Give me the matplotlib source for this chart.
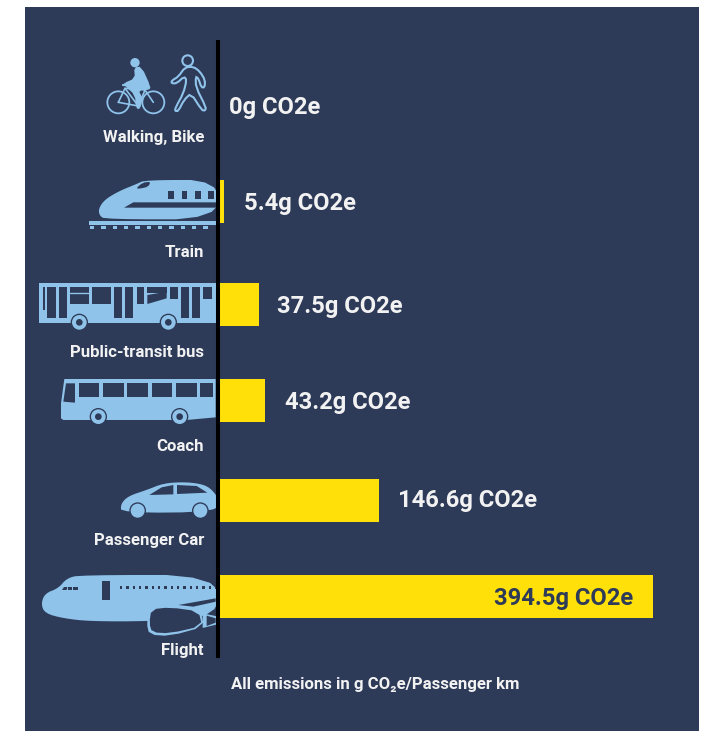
import matplotlib
matplotlib.use("Agg")
import matplotlib.pyplot as plt
from matplotlib.patches import Polygon, Circle, Rectangle

W, H = 703, 731
categories = ["Walking, Bike", "Train", "Public-transit bus", "Coach", "Passenger Car", "Flight"]
values = [0, 5.4, 37.5, 43.2, 146.6, 394.5]
value_texts = ["0g CO2e", "5.4g CO2e", "37.5g CO2e", "43.2g CO2e", "146.6g CO2e", "394.5g CO2e"]
caption = "All emissions in g CO\u2082e/Passenger km"

row_centres = [107, 201.5, 304.5, 400.5, 500.5, 596.5]
label_rows = [137.5, 252.5, 352.5, 446.5, 540.5, 650.5]
value_rows = [108, 204, 307, 403, 501, 599]
value_offsets = [11, 20, 18.5, 20, 18.5, -20]

NAVY = "#2d3a58"
YELLOW = "#ffe008"
SKY = "#8fc3ea"
TEXT = "#f2f2f2"
plt.rcParams["font.family"] = ["Roboto", "DejaVu Sans"]

fig = plt.figure(figsize=(W / 100, H / 100), dpi=100, facecolor="white")
bg = fig.add_axes([0, 0, 1, 1])
bg.set_xlim(0, W); bg.set_ylim(H, 0); bg.axis("off")
bg.add_patch(Rectangle((25, 7), 674, 724, fc=NAVY, ec="none"))

# ---------- icons, in zoomed-crop coordinates ----------
org = (30, 30)
def P(x, y):
    return (org[0] + x / 3, org[1] + y / 3)
def smooth(pts, n=2):
    for _ in range(n):
        out = []
        for i in range(len(pts)):
            a, b = pts[i], pts[(i + 1) % len(pts)]
            out.append((0.75 * a[0] + 0.25 * b[0], 0.75 * a[1] + 0.25 * b[1]))
            out.append((0.25 * a[0] + 0.75 * b[0], 0.25 * a[1] + 0.75 * b[1]))
        pts = out
    return pts
def poly(pts, c=SKY, z=2, n=0, ec="none", lw=0):
    pts = smooth(pts, n) if n else pts
    bg.add_patch(Polygon([P(*p) for p in pts], closed=True, fc=c, ec=ec, lw=lw, zorder=z))
def rect(x0, y0, x1, y1, c=NAVY, z=3):
    poly([(x0, y0), (x1, y0), (x1, y1), (x0, y1)], c, z)
def circ(x, y, r, c=SKY, z=4, ec="none", lw=0):
    bg.add_patch(Circle(P(x, y), r / 3, fc=c, ec=ec, lw=lw, zorder=z))
def line(pts, c=SKY, lw=1.3, z=3):
    xs, ys = zip(*[P(*p) for p in pts])
    bg.plot(xs, ys, color=c, lw=lw, zorder=z, solid_capstyle="round", solid_joinstyle="round")
def wheel(x, y, r=22, hub=10):
    circ(x, y, r + 4, NAVY, 4); circ(x, y, r, SKY, 5); circ(x, y, hub, NAVY, 6)

# bike
for cx in (265, 370):
    circ(cx, 217, 33, "none", 3, SKY, 1.3)
circ(315, 98, 14)
poly([(312, 112), (335, 110), (362, 170), (358, 180), (325, 180), (338, 205), (330, 238), (318, 235),
      (315, 195), (285, 168), (280, 160), (315, 145)], n=1)
line([(265, 217), (285, 175), (345, 180), (370, 217)], lw=1.2)
line([(265, 217), (325, 228), (345, 180)], lw=1.2)
line([(285, 175), (325, 228)], lw=1.2)
line([(278, 165), (300, 165)], lw=1.6)
# walker
circ(473, 92, 16, "none", 3, SKY, 1.5)
poly([(465, 112), (490, 110), (510, 125), (525, 150), (524, 172), (514, 172), (505, 145), (497, 140),
      (498, 172), (528, 232), (525, 242), (515, 240), (483, 190), (462, 210), (445, 243), (435, 243),
      (437, 232), (460, 190), (470, 150), (462, 140), (440, 160), (425, 160), (425, 152), (445, 140)],
     c="none", z=3, n=1, ec=SKY, lw=1.5)

# train
poly([(208, 556), (206, 535), (225, 508), (270, 482), (320, 462), (345, 450), (566, 450), (566, 568), (225, 568)], n=2)
poly([(318, 475), (338, 458), (362, 455), (355, 470), (330, 476)], NAVY, 3, n=1)
poly([(282, 533), (310, 517), (566, 517), (566, 533)], NAVY, 3)
for x in (415, 455, 495, 535):
    rect(x, 482, x + 17, 506)
rect(178, 572, 557, 585, SKY)
for x in range(180, 550, 34):
    rect(x, 589, x + 13, 596, SKY)

# transit bus
rect(28, 758, 557, 880, SKY, 2)
for r in [(38, 772, 46, 840), (52, 772, 78, 865), (87, 772, 110, 865), (120, 772, 178, 822),
          (186, 772, 244, 822), (253, 772, 277, 865), (285, 772, 310, 865), (320, 772, 343, 822),
          (352, 772, 410, 788), (420, 772, 444, 808), (452, 772, 476, 865), (486, 772, 510, 865),
          (520, 772, 545, 808)]:
    rect(*r)
line([(120, 790), (178, 790)], SKY, 1.0, 4)
poly([(352, 795), (410, 785), (410, 805), (352, 822)], NAVY, 3)
wheel(148, 877); wheel(415, 877)

# coach
org = (30, 350)
poly([(93, 205), (93, 160), (103, 87), (557, 87), (557, 202), (470, 210), (100, 210)])
poly([(100, 155), (108, 100), (135, 100), (135, 158)], NAVY, 3)
for x in (146, 219, 292, 365, 438):
    rect(x, 99, x + 62, 140)
rect(511, 99, 548, 140)
wheel(205, 200); wheel(449, 200)

# car
poly([(274, 489), (272, 462), (295, 438), (350, 420), (400, 400), (460, 396), (510, 401), (540, 413), (566, 445), (566, 486)], n=2)
poly([(358, 435), (395, 412), (430, 405), (430, 433)], NAVY, 3)
poly([(441, 405), (500, 408), (532, 428), (441, 432)], NAVY, 3)
wheel(323, 482, 21, 0.1); wheel(511, 482, 21, 0.1)

# flight
poly([(33, 762), (45, 730), (85, 715), (110, 685), (150, 675), (566, 675), (566, 800), (360, 814), (180, 814),
      (100, 805), (45, 790)], n=2)
poly([(445, 765), (557, 745), (557, 755), (490, 770)], NAVY, 3)
poly([(358, 780), (420, 770), (512, 782), (522, 830), (420, 858), (358, 854), (350, 820)], SKY, 4, n=1)
poly([(364, 778), (420, 772), (506, 784), (516, 828), (420, 850), (366, 847), (358, 820)], NAVY, 5, n=1)
poly([(518, 790), (566, 800), (566, 822), (518, 834)], SKY, 4)
poly([(530, 797), (557, 805), (557, 818), (530, 828)], NAVY, 5)
rect(215, 693, 240, 751, NAVY)
for x in range(270, 556, 19):
    rect(x, 709, x + 7, 718, NAVY)
poly([(96, 720), (102, 711), (112, 711), (110, 720)], NAVY, 3)
rect(115, 712, 127, 720, NAVY)
rect(130, 712, 143, 720, NAVY)

# ---------- data ----------
ax = fig.add_axes([217.6 / W, 1 - 658 / H, (653 - 217.6) / W, (658 - 40) / H])
ax.patch.set_alpha(0)
ax.set_xlim(0, 394.5)
ax.set_ylim(658, 40)
ax.barh(row_centres, values, height=43, color=YELLOW, zorder=2)
for s in ("top", "right", "bottom"):
    ax.spines[s].set_visible(False)
ax.spines["left"].set_color("black")
ax.spines["left"].set_linewidth(2.9)
ax.spines["left"].set_capstyle("butt")
ax.spines["left"].set_zorder(5)
ax.set_xticks([]); ax.set_yticks([])

for v, t, y, off in zip(values, value_texts, value_rows, value_offsets):
    ax.annotate(t, (v, y), xytext=(off * 0.72, 0), textcoords="offset points",
                ha="left" if off > 0 else "right", va="center", fontsize=17.1,
                fontweight="bold", color=TEXT if off > 0 else NAVY, zorder=6)

for c, y in zip(categories, label_rows):
    bg.text(204, y, c, ha="right", va="center", fontsize=12.1, fontweight="bold", color=TEXT, zorder=6)
bg.text(375, 684.5, caption, ha="center", va="center", fontsize=12.1, fontweight="bold", color=TEXT, zorder=6)

fig.savefig("out.png", dpi=100, facecolor="white")
